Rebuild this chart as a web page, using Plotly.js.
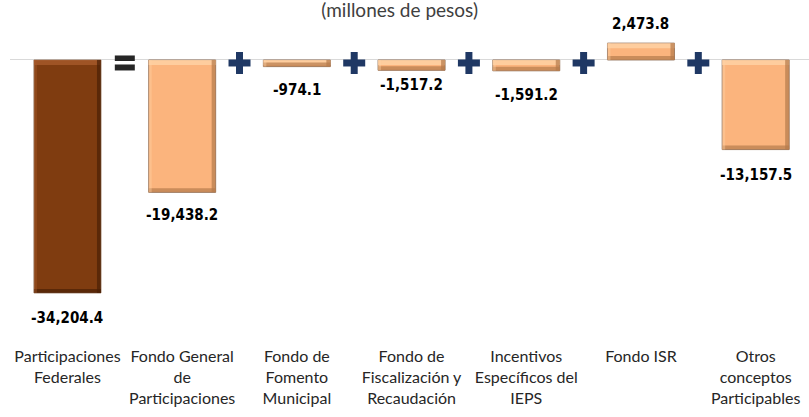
<!DOCTYPE html>
<html>
<head>
<meta charset="utf-8">
<script src="https://cdn.plot.ly/plotly-3.0.1.min.js"></script>
<style>
  html, body { margin: 0; padding: 0; background: #fff; }
  #chart { width: 809px; height: 417px; }
</style>
</head>
<body>
<div id="chart"></div>
<script>
// data
const categories = [
  "Participaciones<br>Federales",
  "Fondo General<br>de<br>Participaciones",
  "Fondo de<br>Fomento<br>Municipal",
  "Fondo de<br>Fiscalización y<br>Recaudación",
  "Incentivos<br>Específicos del<br>IEPS",
  "Fondo ISR",
  "Otros<br>conceptos<br>Participables"
];
const values = [-34204.4, -19438.2, -974.1, -1517.2, -1591.2, 2473.8, -13157.5];
const operators = ["=", "+", "+", "+", "+", "+"];

// styling
const barColors = ["#7f3c10", "#fbb47d", "#fbb47d", "#fbb47d", "#fbb47d", "#fbb47d", "#fbb47d"];
const labelShift = [-25, -23, -23, -15, -24, 19, -25]; // px, label offset from bar end
const barWidth = 0.584;
const labelFont = { family: "DejaVu Sans Condensed, Liberation Sans Narrow, sans-serif", size: 15, color: "#000" };
const textFont = { family: "Lato, Open Sans, sans-serif", size: 16, color: "#262626" };

const idx = categories.map((c, i) => i);

const bars = {
  type: "bar",
  x: idx,
  y: values,
  width: barWidth,
  marker: { color: barColors, line: { color: "#9a7c66", width: 1 } },
  hoverinfo: "skip"
};

const fmt = (v) => v.toLocaleString("en-US", { minimumFractionDigits: 1, maximumFractionDigits: 1 });

const annotations = values.map((v, i) => ({
  x: i, y: v, xref: "x", yref: "y",
  text: "<b>" + fmt(v) + "</b>",
  showarrow: false,
  yshift: labelShift[i],
  font: labelFont
}));

// bevel effect on each bar + operator glyphs
const shapes = [];
values.forEach((v, i) => {
  const x0 = i - barWidth / 2, x1 = i + barWidth / 2;
  const light = i === 0 ? "#a85a2a" : "#ffd3a6";
  const dark = i === 0 ? "#4a1f05" : "#b57a4c";
  const topY = v > 0 ? v : 0;
  const botY = v > 0 ? 0 : v;
  shapes.push({ type: "rect", xref: "x", yref: "y", x0: x0, x1: x1,
    ysizemode: "pixel", yanchor: topY, y0: -5, y1: 0,
    fillcolor: light, opacity: 0.8, line: { width: 0 }, layer: "above" });
  shapes.push({ type: "rect", xref: "x", yref: "y", x0: x0, x1: x1,
    ysizemode: "pixel", yanchor: botY, y0: 0, y1: 4,
    fillcolor: dark, opacity: 0.7, line: { width: 0 }, layer: "above" });
  shapes.push({ type: "rect", xref: "x", yref: "y", y0: botY, y1: topY,
    xsizemode: "pixel", xanchor: x1, x0: -4, x1: 0,
    fillcolor: dark, opacity: 0.7, line: { width: 0 }, layer: "above" });
  shapes.push({ type: "rect", xref: "x", yref: "y", y0: botY, y1: topY,
    xsizemode: "pixel", xanchor: x0, x0: 0, x1: 3,
    fillcolor: light, opacity: 0.4, line: { width: 0 }, layer: "above" });
});

operators.forEach((op, k) => {
  const xc = k + 0.5;
  if (op === "=") {
    [[-1, 4.5], [-10.5, -4.5]].forEach(([a, b]) => shapes.push({
      type: "rect", xref: "x", yref: "y",
      xsizemode: "pixel", xanchor: xc, x0: -10, x1: 10,
      ysizemode: "pixel", yanchor: 0, y0: a, y1: b,
      fillcolor: "#262626", line: { width: 0 }, layer: "above"
    }));
  } else {
    shapes.push({ type: "rect", xref: "x", yref: "y",
      xsizemode: "pixel", xanchor: xc, x0: -11, x1: 11,
      ysizemode: "pixel", yanchor: 0, y0: -6.5, y1: 0.5,
      fillcolor: "#1f3864", line: { width: 0 }, layer: "above" });
    shapes.push({ type: "rect", xref: "x", yref: "y",
      xsizemode: "pixel", xanchor: xc, x0: -3.5, x1: 3.5,
      ysizemode: "pixel", yanchor: 0, y0: -14, y1: 8,
      fillcolor: "#1f3864", line: { width: 0 }, layer: "above" });
  }
});

const layout = {
  width: 809,
  height: 417,
  margin: { l: 10, r: 0, t: 20, b: 72 },
  paper_bgcolor: "#fff",
  plot_bgcolor: "#fff",
  showlegend: false,
  title: {
    text: "(millones de pesos)",
    x: 0.494, xanchor: "center",
    y: 0.99, yanchor: "top",
    font: { family: "Lato, Open Sans, sans-serif", size: 19, color: "#404040" }
  },
  xaxis: {
    range: [-0.501, 6.465],
    tickvals: idx,
    ticktext: categories,
    tickfont: textFont,
    showgrid: false,
    zeroline: false,
    showline: false,
    ticks: ""
  },
  yaxis: {
    range: [-41850, 5870],
    showgrid: false,
    showticklabels: false,
    zeroline: true,
    zerolinecolor: "#d9d9d9",
    zerolinewidth: 1,
    ticks: ""
  },
  annotations: annotations,
  shapes: shapes
};

Plotly.newPlot("chart", [bars], layout, { staticPlot: true });
</script>
</body>
</html>
